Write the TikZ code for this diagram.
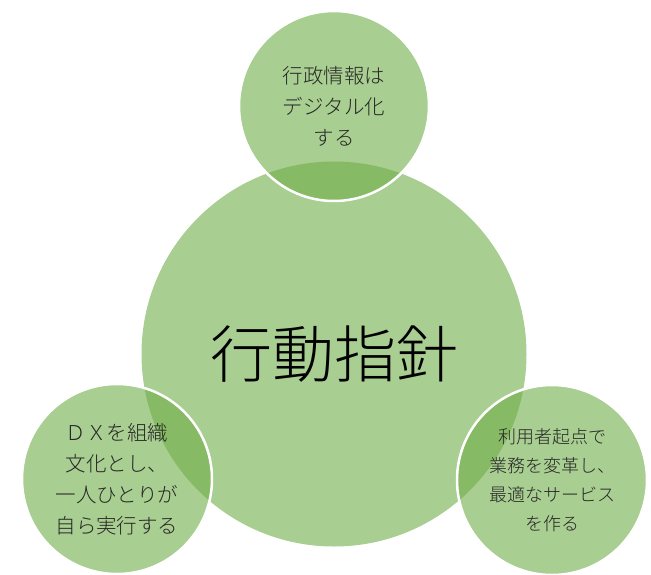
\documentclass[tikz,border=0pt]{standalone}
\usepackage{fontspec}
\setmainfont{Noto Sans CJK JP Light}
\usepackage{tikz}
\usetikzlibrary{positioning}
\definecolor{leafgreen}{RGB}{112,173,71}
\definecolor{inkgray}{RGB}{38,38,38}

\begin{document}
\begin{tikzpicture}[
        x=1pt, y=-1pt,
        hub/.style={circle, fill=leafgreen, fill opacity=0.6, text opacity=1, minimum size=385pt, inner sep=0pt, text=black, font=\fontsize{62}{70}\selectfont},
        spoke/.style={circle, draw=white, line width=2.5pt, draw opacity=1, fill=leafgreen, fill opacity=0.6, text opacity=1, minimum size=190pt, inner sep=0pt, align=center, text=inkgray}
    ]
        \useasboundingbox (0,0) rectangle (651,574);

        \node[hub] (core) at (334,354) {行動指針};

        \node[spoke, font=\fontsize{20.5}{31}\selectfont] (digital) at (334,106) {行政情報は\\デジタル化\\する};
        \node[spoke, font=\fontsize{20.5}{31}\selectfont] (culture) at (117,479) {ＤＸを組織\\文化とし、\\一人ひとりが\\自ら実行する};
        \node[spoke, font=\fontsize{18}{29}\selectfont] (service) at (552,480) {利用者起点で\\業務を変革し、\\最適なサービス\\を作る};
    \end{tikzpicture}
\end{document}
